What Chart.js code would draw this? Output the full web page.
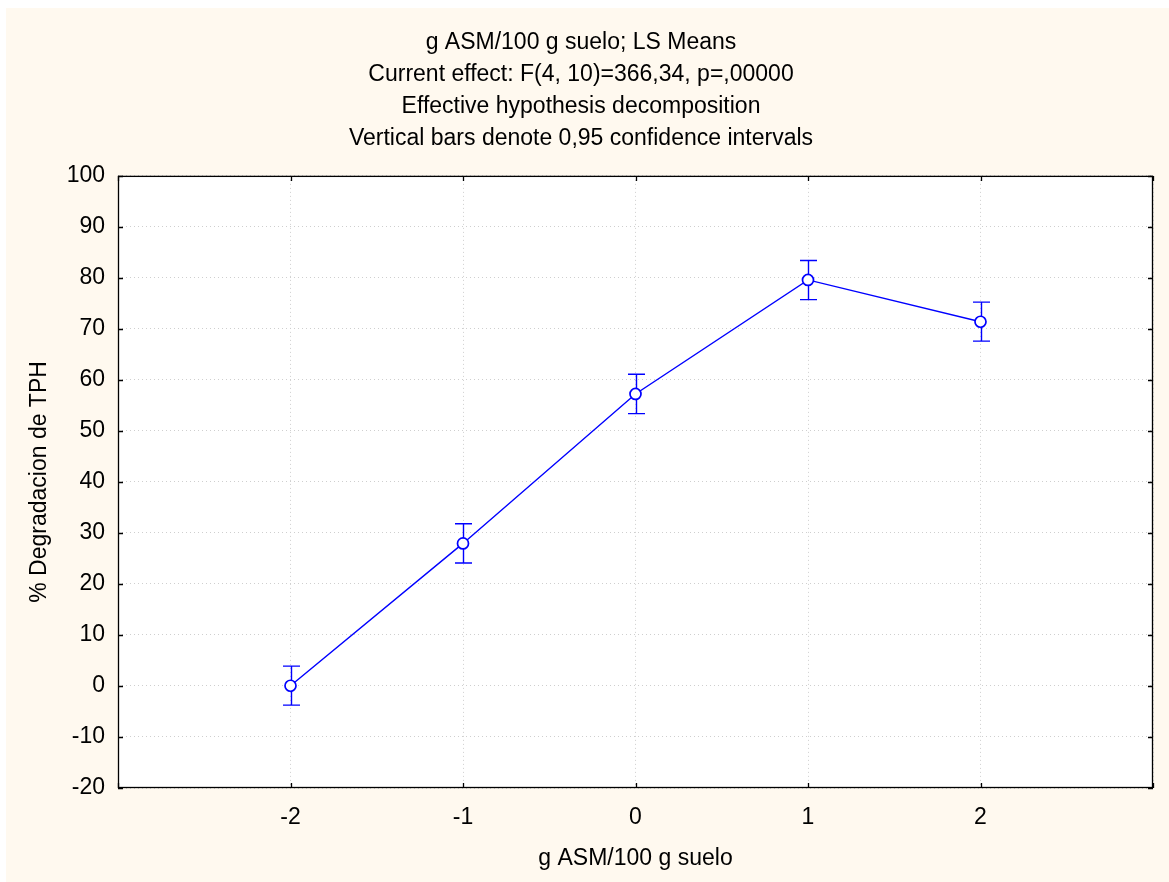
<!DOCTYPE html>
<html>
<head>
<meta charset="utf-8">
<script src="https://cdn.jsdelivr.net/npm/chart.js@4/dist/chart.umd.min.js"></script>
<style>
  html, body { margin: 0; padding: 0; background: #ffffff; width: 1169px; height: 882px; overflow: hidden; }
  #wrap { position: absolute; left: 6px; top: 8px; width: 1163px; height: 874px; background: #FFF9EF; }
  canvas { display: block; }
</style>
</head>
<body>
<div id="wrap"><canvas id="c" width="1163" height="874"></canvas></div>
<script>
// ---- data ----
const xLevels = [-2, -1, 0, 1, 2];
const lsMeans = [0.05, 27.95, 57.25, 79.6, 71.4];
const ciLower = [-3.75, 24.1, 53.4, 75.75, 67.6];
const ciUpper = [3.9, 31.8, 61.1, 83.4, 75.25];
const titleLines = [
  'g ASM/100 g suelo; LS Means',
  'Current effect: F(4, 10)=366,34, p=,00000',
  'Effective hypothesis decomposition',
  'Vertical bars denote 0,95 confidence intervals'
];
const xAxisTitle = 'g ASM/100 g suelo';
const yAxisTitle = '% Degradacion de TPH';
const shownXTicks = [-2, -1, 0, 1, 2];

const FONT = '"Liberation Sans", Arial, sans-serif';
const FS = 23;
const BLUE = '#0000FF';

const chartBg = {
  id: 'chartBg',
  beforeDraw(chart) {
    const {ctx, chartArea: a} = chart;
    ctx.save();
    ctx.fillStyle = '#ffffff';
    ctx.fillRect(a.left, a.top, a.right - a.left, a.bottom - a.top);
    ctx.restore();
  }
};

const frameAndBars = {
  id: 'frameAndBars',
  beforeDatasetsDraw(chart) {
    const {ctx, chartArea: a, scales} = chart;
    const xs = scales.x, ys = scales.y;
    ctx.save();
    // frame
    ctx.strokeStyle = '#000000';
    ctx.lineWidth = 1.3;
    ctx.strokeRect(a.left + 0.5, a.top + 0.5, a.right - a.left - 1, a.bottom - a.top - 1);
    // inner ticks
    const tl = 5;
    ctx.beginPath();
    ys.ticks.forEach(t => {
      const p = Math.round(ys.getPixelForValue(t.value)) + 0.5;
      ctx.moveTo(a.left, p); ctx.lineTo(a.left + tl, p);
      ctx.moveTo(a.right, p); ctx.lineTo(a.right - tl, p);
    });
    xs.ticks.forEach(t => {
      const p = Math.round(xs.getPixelForValue(t.value)) + 0.5;
      ctx.moveTo(p, a.bottom); ctx.lineTo(p, a.bottom - tl);
      ctx.moveTo(p, a.top); ctx.lineTo(p, a.top + tl);
    });
    ctx.stroke();
    // error bars
    ctx.strokeStyle = BLUE;
    ctx.lineWidth = 1.4;
    const cap = 8.5;
    ctx.beginPath();
    xLevels.forEach((xv, i) => {
      const px = Math.round(xs.getPixelForValue(xv)) + 0.5;
      const pl = ys.getPixelForValue(ciLower[i]);
      const pu = ys.getPixelForValue(ciUpper[i]);
      ctx.moveTo(px, pl); ctx.lineTo(px, pu);
      ctx.moveTo(px - cap, pl); ctx.lineTo(px + cap, pl);
      ctx.moveTo(px - cap, pu); ctx.lineTo(px + cap, pu);
    });
    ctx.stroke();
    ctx.restore();
  }
};

new Chart(document.getElementById('c'), {
  type: 'line',
  data: {
    datasets: [{
      data: xLevels.map((x, i) => ({x: x, y: lsMeans[i]})),
      borderColor: BLUE,
      borderWidth: 1.4,
      backgroundColor: '#ffffff',
      pointBackgroundColor: '#ffffff',
      pointBorderColor: BLUE,
      pointBorderWidth: 1.7,
      pointRadius: 5.5,
      tension: 0,
      fill: false
    }]
  },
  options: {
    responsive: false,
    animation: false,
    devicePixelRatio: 1,
    layout: { padding: { left: 0, right: 13, top: 0, bottom: 0 } },
    plugins: {
      legend: { display: false },
      tooltip: { enabled: false },
      title: {
        display: true,
        text: titleLines,
        color: '#000000',
        font: { family: FONT, size: FS, weight: 'normal', lineHeight: 1.39 },
        padding: { top: 19, bottom: 21 }
      }
    },
    scales: {
      x: {
        type: 'linear',
        min: -3, max: 3,
        afterFit(s) { s.height = 94; },
        grid: { color: '#cfcfcf', lineWidth: 1, drawTicks: false },
        border: { display: false, dash: [1, 3] },
        ticks: {
          stepSize: 1,
          padding: 16,
          color: '#000000',
          font: { family: FONT, size: FS },
          maxRotation: 0,
          callback: (v) => shownXTicks.includes(v) ? String(v) : ''
        },
        title: {
          display: true,
          text: xAxisTitle,
          color: '#000000',
          font: { family: FONT, size: FS },
          padding: { top: 0, bottom: 10 }
        }
      },
      y: {
        type: 'linear',
        min: -20, max: 100,
        afterFit(s) { s.width = 112; },
        grid: { color: '#cfcfcf', lineWidth: 1, drawTicks: false },
        border: { display: false, dash: [1, 3] },
        ticks: {
          stepSize: 10,
          padding: 13,
          color: '#000000',
          font: { family: FONT, size: FS }
        },
        title: {
          display: true,
          text: yAxisTitle,
          color: '#000000',
          font: { family: FONT, size: FS },
          padding: { top: 20, bottom: 0 }
        }
      }
    }
  },
  plugins: [chartBg, frameAndBars]
});
</script>
</body>
</html>
